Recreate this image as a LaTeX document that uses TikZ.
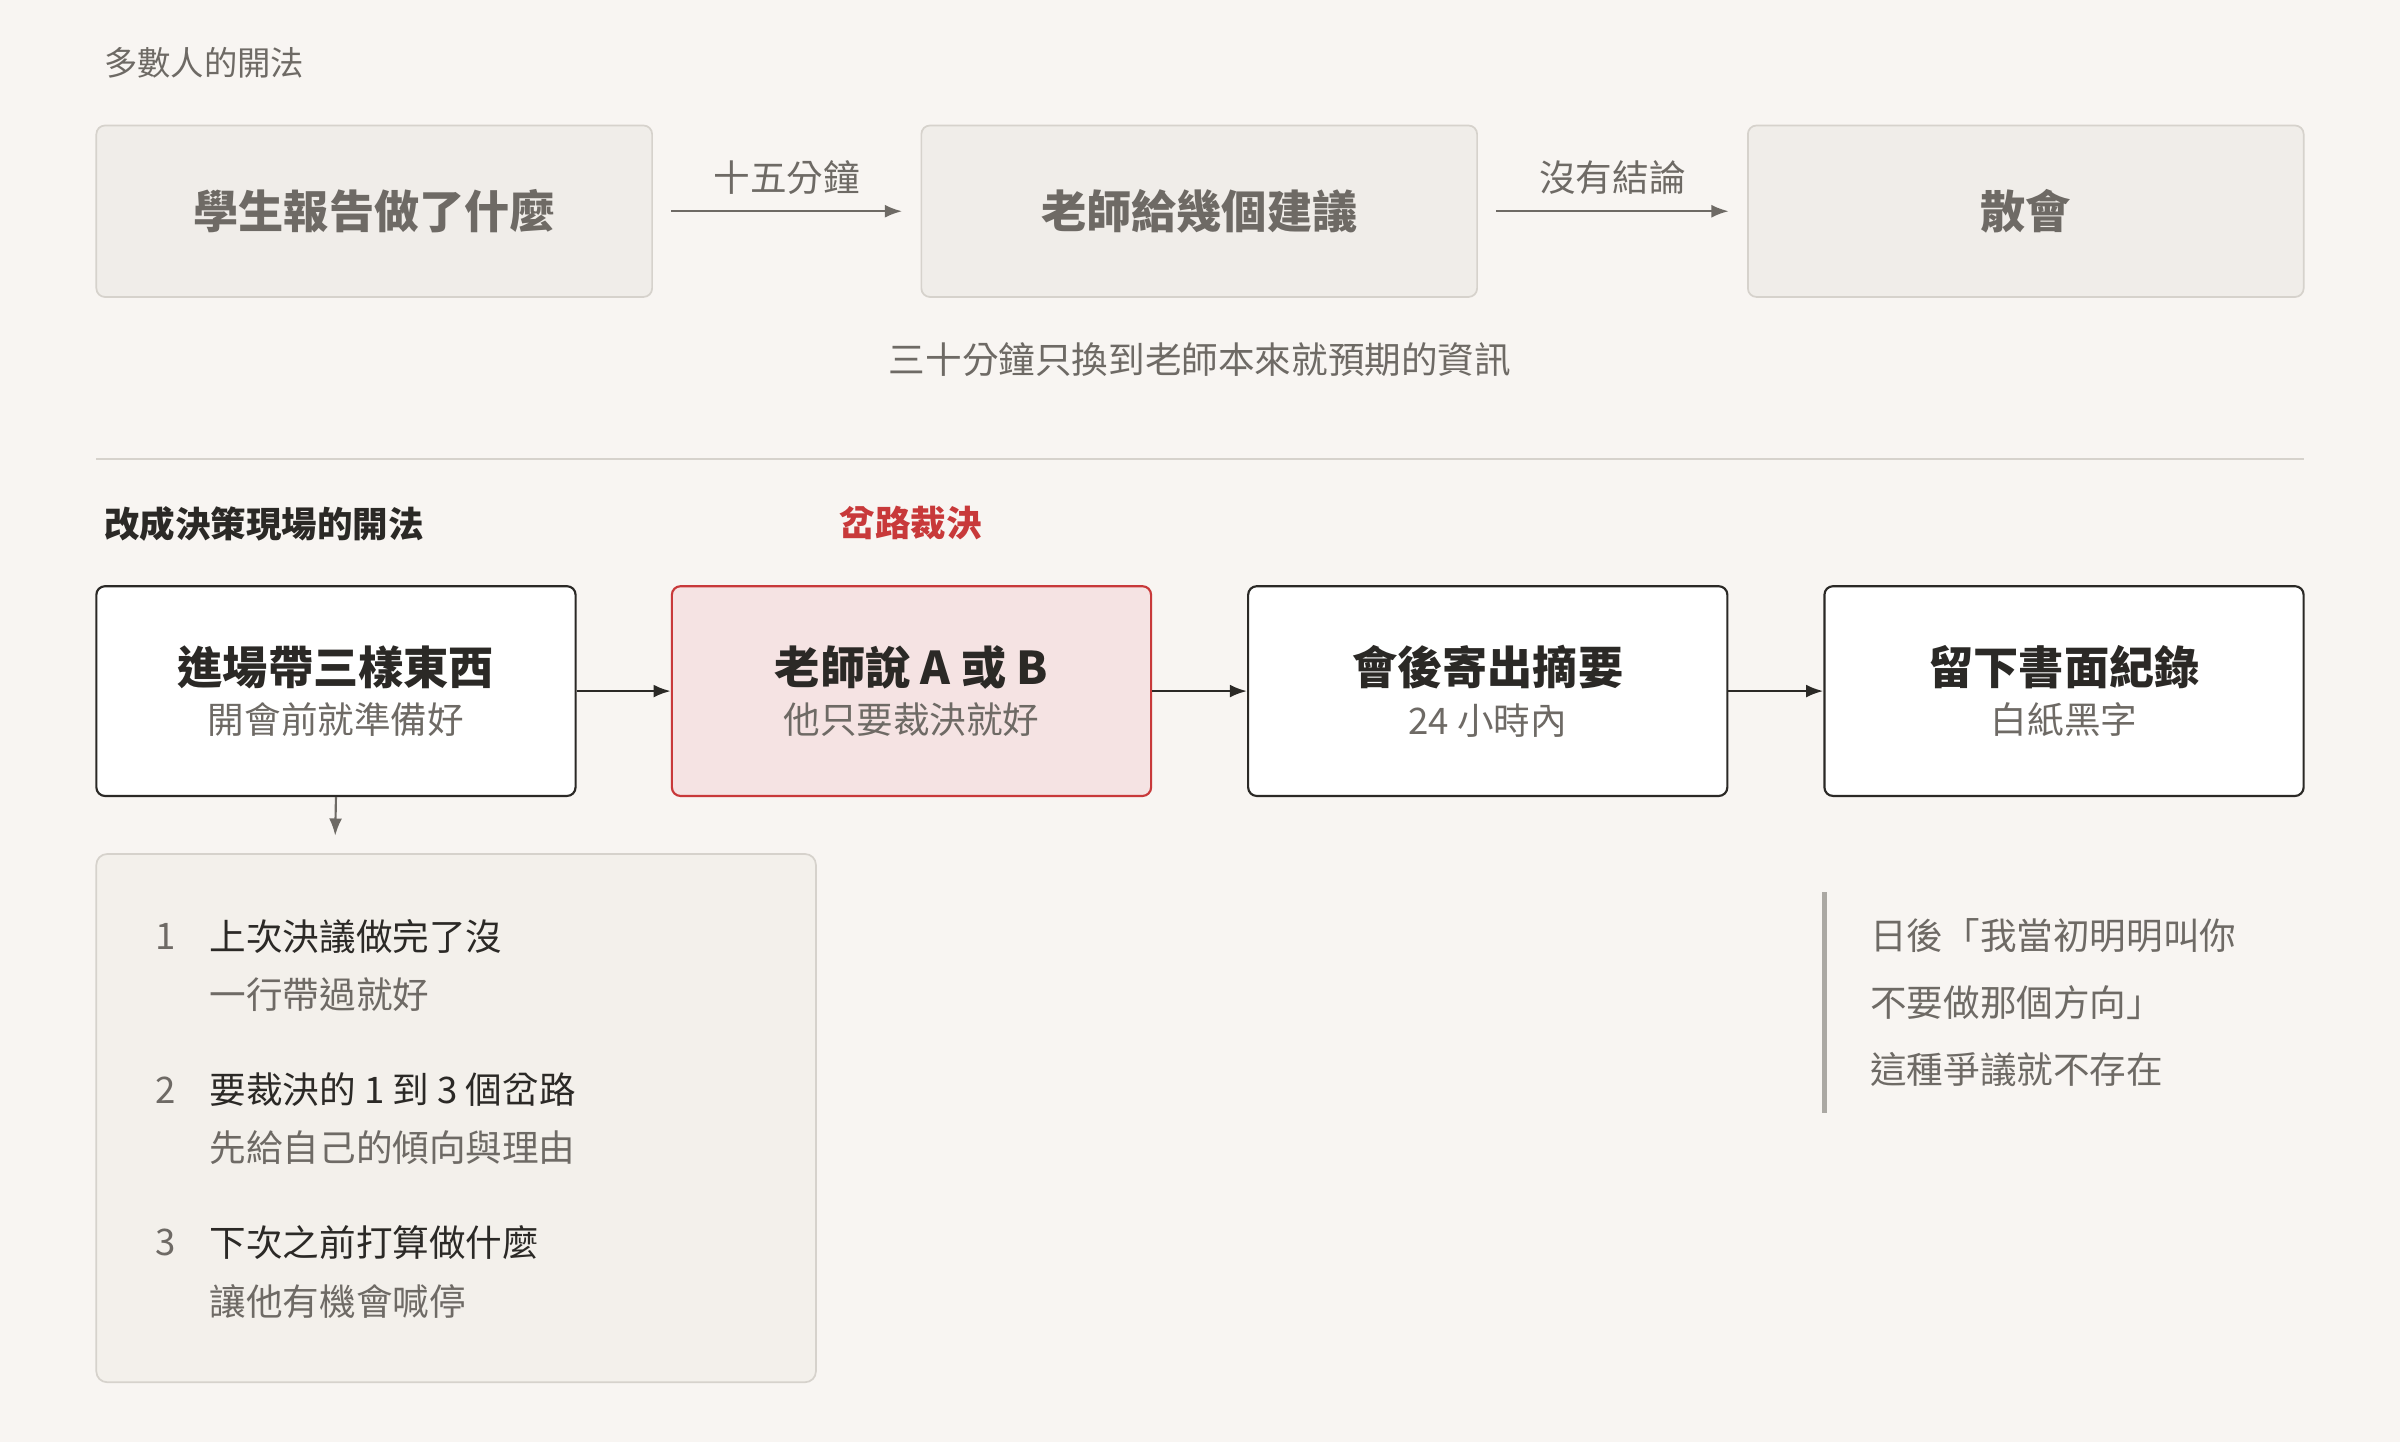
\documentclass[tikz,border=0pt]{standalone}
\usepackage{fontspec}
\setmainfont{Noto Sans CJK TC}
\usetikzlibrary{arrows.meta,positioning}
\definecolor{bgc}{HTML}{F8F5F2}
\definecolor{greybox}{HTML}{F0EDE9}
\definecolor{greyline}{HTML}{D6D2CC}
\definecolor{greytxt}{HTML}{6E6A65}
\definecolor{darktxt}{HTML}{2B2926}
\definecolor{redfill}{HTML}{F5E3E3}
\definecolor{redline}{HTML}{C8393A}
\definecolor{listbox}{HTML}{F3F0EB}
\newcommand{\subtxt}[1]{{\fontsize{17}{20}\selectfont\mdseries\color{greytxt}#1}}
\tikzset{
    oldbox/.style = {draw=greyline, fill=greybox, rounded corners=4pt, line width=0.8pt,
        minimum width=9.075cm, minimum height=2.8cm,
        font=\fontsize{21}{25}\selectfont\bfseries, text=greytxt},
    newbox/.style = {draw=darktxt, fill=white, rounded corners=4pt, line width=1pt,
        minimum width=7.825cm, minimum height=3.425cm, align=center,
        font=\fontsize{21}{25}\selectfont\bfseries, text=darktxt},
    redbox/.style = {newbox, draw=redline, fill=redfill},
    arrow/.style = {draw=greytxt, line width=1pt, -{Latex[length=8pt,width=6pt]}},
    darrow/.style = {draw=darktxt, line width=1.2pt, -{Latex[length=8pt,width=6pt]}},
    lbl/.style = {font=\fontsize{17}{20}\selectfont, text=greytxt},
    item/.style = {anchor=west, font=\fontsize{17}{20}\selectfont, text=darktxt},
    itemsub/.style = {anchor=west, font=\fontsize{17}{20}\selectfont, text=greytxt}
}
\begin{document}
\begin{tikzpicture}[x=0.025cm, y=-0.025cm]
    \fill[bgc] (0,0) rectangle (1568,942);
    % old way
    \node[anchor=west, font=\fontsize{15.5}{18}\selectfont, text=greytxt] (t1) at (63,41) {多數人的開法};
    \node[oldbox] (o1) at (244.5,138) {學生報告做了什麼};
    \node[oldbox] (o2) at (783.5,138) {老師給幾個建議};
    \node[oldbox] (o3) at (1323.5,138) {散會};
    \draw[arrow] ([xshift=0.3cm]o1.east) -- node[lbl, above=4pt] {十五分鐘} ([xshift=-0.3cm]o2.west);
    \draw[arrow] ([xshift=0.3cm]o2.east) -- node[lbl, above=4pt] {沒有結論} ([xshift=-0.3cm]o3.west);
    \node[lbl] (cap) at (784,235) {三十分鐘只換到老師本來就預期的資訊};
    \draw[greyline, line width=0.8pt] (63,300) -- (1505,300);
    % new way
    \node[anchor=west, font=\fontsize{16.5}{19}\selectfont\bfseries, text=darktxt] (t2) at (63,342) {改成決策現場的開法};
    \node[font=\fontsize{16.5}{19}\selectfont\bfseries, text=redline] (t3) at (595,342) {岔路裁決};
    \node[newbox] (n1) at (219.5,451.5) {進場帶三樣東西\\[-2pt]\subtxt{開會前就準備好}};
    \node[redbox] (n2) at (595.5,451.5) {老師說 A 或 B\\[-2pt]\subtxt{他只要裁決就好}};
    \node[newbox] (n3) at (972,451.5) {會後寄出摘要\\[-2pt]\subtxt{24 小時內}};
    \node[newbox] (n4) at (1348.5,451.5) {留下書面紀錄\\[-2pt]\subtxt{白紙黑字}};
    \draw[darrow] (n1) -- (n2);
    \draw[darrow] (n2) -- (n3);
    \draw[darrow] (n3) -- (n4);
    \node[draw=greyline, fill=listbox, rounded corners=5pt, line width=0.8pt,
        minimum width=11.75cm, minimum height=8.625cm] (lst) at (298,730.5) {};
    \coordinate (top) at (219,546);
    \draw[arrow] (n1.south) -- (top);
    \foreach \n/\y/\a/\b in {1/612/上次決議做完了沒/一行帶過就好,
        2/712/要裁決的 1 到 3 個岔路/先給自己的傾向與理由,
        3/812/下次之前打算做什麼/讓他有機會喊停} {
        \node[anchor=center, font=\fontsize{17}{20}\selectfont, text=greytxt] (num\n) at (108,\y) {\n};
        \node[item] (it\n) at (132,\y) {\a};
        \node[itemsub] (sb\n) at (132,\y+38) {\b};
    }
    % quote
    \draw[greyline!80!black, line width=2pt] (1192,583) -- (1192,727);
    \node[itemsub] (q1) at (1217,611) {日後「我當初明明叫你};
    \node[itemsub] (q2) at (1217,655) {不要做那個方向」};
    \node[itemsub] (q3) at (1217,699) {這種爭議就不存在};
\end{tikzpicture}
\end{document}
